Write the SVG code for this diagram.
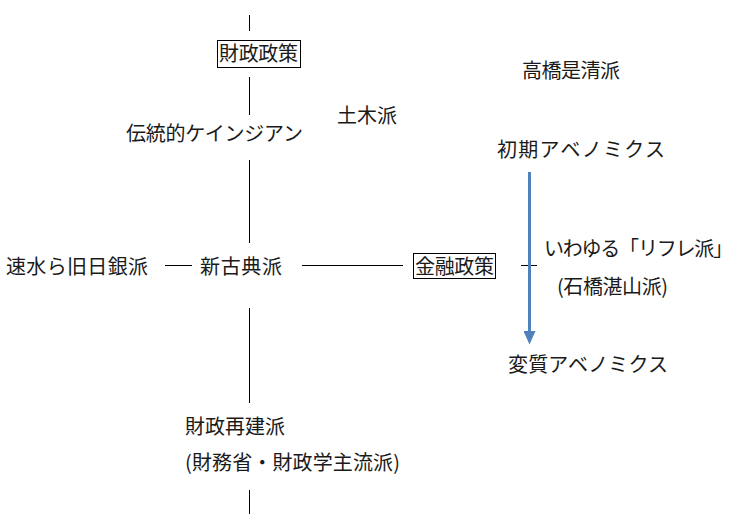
<svg xmlns="http://www.w3.org/2000/svg" width="740" height="522" viewBox="0 0 740 522">
<style>
text{font-family:"Noto Sans CJK JP","Noto Sans",sans-serif;font-size:20px;fill:#1a1a1a}
.ln{stroke:#000;stroke-width:1;fill:none}
.box{fill:#fff;stroke:#000;stroke-width:1}
</style>
<defs>
<marker id="ah" markerWidth="5" markerHeight="4" refX="1" refY="2" orient="auto" markerUnits="strokeWidth">
<path d="M0,0 L4.5,2 L0,4 z" fill="#4F81BD"/>
</marker>
</defs>
<rect width="740" height="522" fill="#fff"/>
<g id="connectors">
<line class="ln" x1="249.5" y1="15" x2="249.5" y2="31"/>
<line class="ln" x1="249.5" y1="77" x2="249.5" y2="115"/>
<line class="ln" x1="249.5" y1="160" x2="249.5" y2="243"/>
<line class="ln" x1="249.5" y1="308" x2="249.5" y2="403"/>
<line class="ln" x1="249.5" y1="490" x2="249.5" y2="514"/>
<line class="ln" x1="165" y1="265.5" x2="192" y2="265.5"/>
<line class="ln" x1="302" y1="265.5" x2="403" y2="265.5"/>
<line class="ln" x1="521" y1="265.5" x2="537" y2="265.5"/>
<line x1="529.5" y1="172" x2="529.5" y2="334" stroke="#4F81BD" stroke-width="3" marker-end="url(#ah)"/>
</g>
<g id="zaisei"><rect class="box" x="217.5" y="40.5" width="83" height="27"/><text x="219" y="61" textLength="79">財政政策</text></g>
<g id="dentou"><text x="126" y="141" textLength="177">伝統的ケインジアン</text></g>
<g id="doboku"><text x="337" y="123" textLength="60">土木派</text></g>
<g id="takahashi"><text x="522" y="78" textLength="98">高橋是清派</text></g>
<g id="shoki"><text x="497" y="157" textLength="168">初期アベノミクス</text></g>
<g id="hayami"><text x="6" y="274" textLength="142">速水ら旧日銀派</text></g>
<g id="shinkoten"><text x="200" y="274" textLength="82">新古典派</text></g>
<g id="kinyu"><rect class="box" x="413.5" y="253.5" width="82" height="25"/><text x="415" y="274" textLength="79">金融政策</text></g>
<g id="reflation"><text x="544" y="256" textLength="189">いわゆる「リフレ派」</text><text x="557" y="294" textLength="111">(石橋湛山派)</text></g>
<g id="henshitsu"><text x="508" y="372" textLength="160">変質アベノミクス</text></g>
<g id="saiken"><text x="185" y="434" textLength="100">財政再建派</text><text x="185" y="470" textLength="215">(財務省・財政学主流派)</text></g>
</svg>
